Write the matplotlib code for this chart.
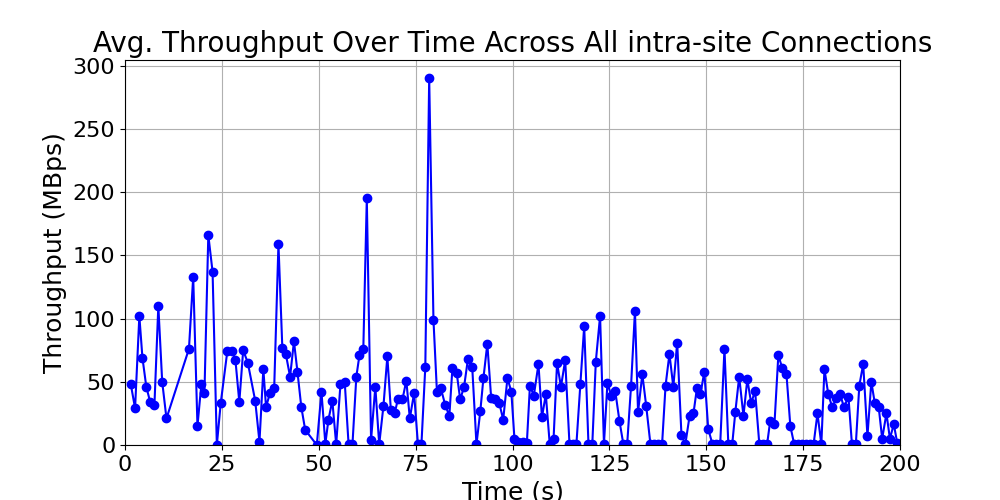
import matplotlib
matplotlib.use("Agg")
import matplotlib.pyplot as plt

time_s = [1.5, 2.6, 3.7, 4.5, 5.5, 6.5, 7.6, 8.6, 9.6, 10.7,
          16.5, 17.6, 18.7, 19.7, 20.5, 21.5, 22.6, 23.7, 24.7,
          26.4, 27.7, 28.5, 29.5, 30.5, 31.7, 33.6, 34.7, 35.7, 36.4,
          37.4, 38.5, 39.6, 40.6, 41.5, 42.6, 43.6, 44.5, 45.5, 46.5,
          49.5, 50.7, 51.7, 52.5, 53.5, 54.5, 55.6, 56.7, 57.7, 58.7,
          59.7, 60.5, 61.5, 62.4, 63.5, 64.6, 65.6, 66.7, 67.7, 68.6,
          69.6, 70.4, 71.6, 72.6, 73.5, 74.6, 75.6, 76.5, 77.5, 78.5,
          79.6, 80.5, 81.5, 82.6, 83.7, 84.5, 85.6, 86.5, 87.5, 88.5,
          89.6, 90.7, 91.7, 92.5, 93.5, 94.5, 95.6, 96.6, 97.6, 98.7,
          99.7, 100.5, 101.5, 102.6, 103.7, 104.5, 105.5, 106.7, 107.6, 108.6,
          109.6, 110.6, 111.5, 112.5, 113.6, 114.7, 115.6, 116.5, 117.5, 118.5,
          119.6, 120.6, 121.5, 122.6, 123.6, 124.5, 125.5, 126.5, 127.6, 128.6,
          129.6, 130.6, 131.6, 132.4, 133.5, 134.5, 135.6, 136.6, 137.6, 138.6,
          139.5, 140.5, 141.5, 142.5, 143.6, 144.6, 145.7, 146.7, 147.6, 148.5,
          149.5, 150.5, 151.6, 152.6, 153.6, 154.7, 155.7, 156.7, 157.5, 158.5,
          159.6, 160.6, 161.6, 162.6, 163.7, 164.7, 165.7, 166.5, 167.6, 168.6,
          169.6, 170.7, 171.7, 172.7, 173.7, 174.7, 175.7, 176.7, 177.7, 178.7,
          179.7, 180.5, 181.5, 182.5, 183.6, 184.6, 185.5, 186.7, 187.6, 188.6,
          189.5, 190.5, 191.6, 192.6, 193.5, 194.5, 195.4, 196.5, 197.4, 198.4,
          199.3]

throughput = [48, 29, 102, 69, 46, 34, 32, 110, 50, 21,
              76, 133, 15, 48, 41, 166, 137, 0, 33,
              74, 74, 67, 34, 75, 65, 35, 2.5, 60, 30,
              41, 45, 159, 77, 72, 54, 82, 58, 30, 12,
              0, 42, 1, 20, 35, 0.5, 48, 50, 0.5, 0.5,
              54, 71, 76, 195, 4, 46, 0.5, 31, 70, 28,
              25, 36, 36, 51, 21, 41, 0.5, 0.5, 62, 290,
              99, 42, 45, 32, 23, 61, 57, 36, 46, 68,
              62, 0.5, 27, 53, 80, 37, 36, 33, 20, 53,
              42, 5, 2.5, 2, 1.3, 47, 39, 64, 22, 40,
              1, 5, 65, 46, 67, 1, 0.5, 1, 48, 94,
              1, 1, 66, 102, 0.8, 49, 39, 43, 19, 0.8,
              0.8, 47, 106, 26, 56, 31, 0.5, 0.5, 0.5, 0.5,
              47, 72, 46, 81, 8, 0.5, 23, 25, 45, 40,
              58, 13, 0.5, 0.5, 0.5, 76, 0.5, 0.5, 26, 54,
              23, 52, 33, 43, 0.5, 0.5, 0.5, 19, 16.5, 71,
              61, 56, 15, 0.5, 0.5, 0.5, 0.5, 0.5, 0.5, 25,
              0.5, 60, 40, 30, 37, 40, 30, 38, 0.5, 0.5,
              47, 64, 7, 50, 33, 30, 5, 25, 5, 16.5,
              1.3]

fig, ax = plt.subplots(figsize=(10, 5), dpi=100)
ax.plot(time_s, throughput, 'b-o', linewidth=1.5, markersize=6)
ax.set_title("Avg. Throughput Over Time Across All intra-site Connections", fontsize=20)
ax.set_xlabel("Time (s)", fontsize=18)
ax.set_ylabel("Throughput (MBps)", fontsize=18)
ax.tick_params(labelsize=16)
ax.grid(True)
ax.set_xlim(0, 200)
ax.set_ylim(bottom=0)
fig.savefig("out.png", dpi=100)
